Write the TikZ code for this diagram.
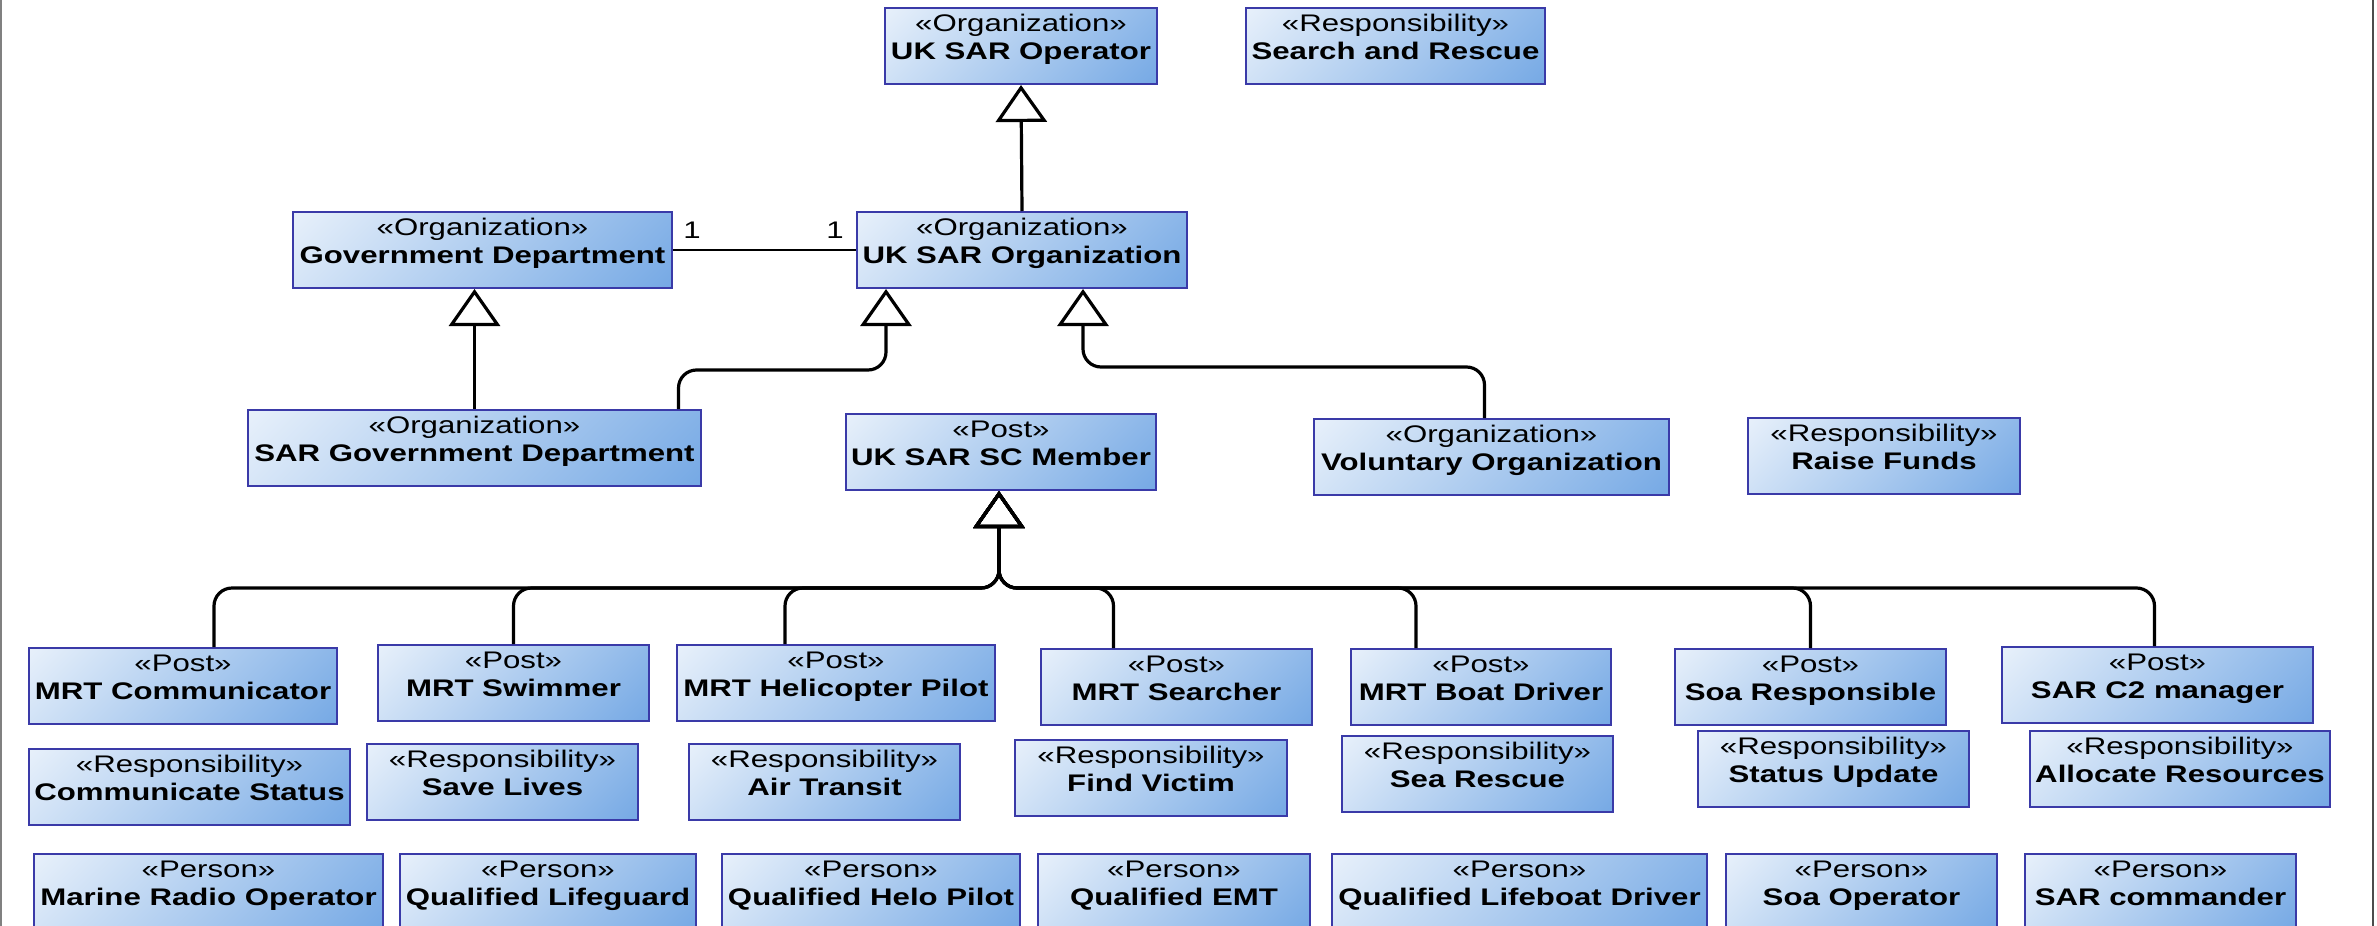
\documentclass[tikz,border=0pt]{standalone}
\usepackage{fontspec}
\setmainfont{Liberation Sans}
\usepackage{graphicx}
\usetikzlibrary{arrows.meta}

\definecolor{umlblue}{RGB}{94,154,224}
\definecolor{umlborder}{RGB}{58,58,168}
\pgfdeclareverticalshading{umlfill}{100bp}{color(0bp)=(umlblue); color(100bp)=(white)}

\newcommand{\umlfont}{\fontsize{24pt}{28pt}\selectfont}
\newcommand{\umltext}[2]{\scalebox{1.30}[1]{\begin{tabular}[t]{@{}c@{}}«#1»\\\textbf{#2}\end{tabular}}}
\newcommand{\widetext}[1]{\scalebox{1.30}[1]{#1}}

\begin{document}
\begin{tikzpicture}[x=1pt, y=-1pt,
  umlbox/.style={draw=umlborder, line width=2pt, shade, shading=umlfill, shading angle=45,
    anchor=north west, inner sep=0pt, minimum height=76pt,
    text height=23pt, text depth=53pt, font=\umlfont},
  gen/.style={draw=black, line width=3.2pt, rounded corners=18pt,
    -{Triangle[open, length=37pt, width=51pt]}},
  assoc/.style={draw=black, line width=2.6pt},
  mult/.style={inner sep=0pt, font=\umlfont},
  frame/.style={line width=2pt}]

\useasboundingbox (0,0) rectangle (2377,926);
\clip (0,0) rectangle (2377,926);

% page frame
\draw[frame, black!50] (1,0) -- (1,926);
\draw[frame, black!70] (2373,0) -- (2373,926);

% organizations and top-level responsibilities
\node[umlbox, minimum width=272pt] (ukop)  at (884,7)   {\umltext{Organization}{UK SAR Operator}};
\node[umlbox, minimum width=299pt] (sar)   at (1245,7)  {\umltext{Responsibility}{Search and Rescue}};
\node[umlbox, minimum width=379pt] (gd)    at (292,211) {\umltext{Organization}{Government Department}};
\node[umlbox, minimum width=330pt] (ukorg) at (856,211) {\umltext{Organization}{UK SAR Organization}};
\node[umlbox, minimum width=453pt] (sgd)   at (247,409) {\umltext{Organization}{SAR Government Department}};
\node[umlbox, minimum width=310pt] (ssc)   at (845,413) {\umltext{Post}{UK SAR SC Member}};
\node[umlbox, minimum width=355pt] (vol)   at (1313,418) {\umltext{Organization}{Voluntary Organization}};
\node[umlbox, minimum width=272pt] (funds) at (1747,417) {\umltext{Responsibility}{Raise Funds}};

% posts
\node[umlbox, minimum width=308pt] (mrtcom) at (28,647)   {\umltext{Post}{MRT Communicator}};
\node[umlbox, minimum width=271pt] (swim)   at (377,644)  {\umltext{Post}{MRT Swimmer}};
\node[umlbox, minimum width=318pt] (heli)   at (676,644)  {\umltext{Post}{MRT Helicopter Pilot}};
\node[umlbox, minimum width=271pt] (srch)   at (1040,648) {\umltext{Post}{MRT Searcher}};
\node[umlbox, minimum width=260pt] (boat)   at (1350,648) {\umltext{Post}{MRT Boat Driver}};
\node[umlbox, minimum width=271pt] (soa)    at (1674,648) {\umltext{Post}{Soa Responsible}};
\node[umlbox, minimum width=311pt] (ctwo)   at (2001,646) {\umltext{Post}{SAR C2 manager}};

% responsibilities of the posts
\node[umlbox, minimum width=321pt] (comm)  at (28,748)   {\umltext{Responsibility}{Communicate Status}};
\node[umlbox, minimum width=271pt] (save)  at (366,743)  {\umltext{Responsibility}{Save Lives}};
\node[umlbox, minimum width=271pt] (air)   at (688,743)  {\umltext{Responsibility}{Air Transit}};
\node[umlbox, minimum width=272pt] (find)  at (1014,739) {\umltext{Responsibility}{Find Victim}};
\node[umlbox, minimum width=271pt] (sea)   at (1341,735) {\umltext{Responsibility}{Sea Rescue}};
\node[umlbox, minimum width=271pt] (stat)  at (1697,730) {\umltext{Responsibility}{Status Update}};
\node[umlbox, minimum width=300pt] (alloc) at (2029,730) {\umltext{Responsibility}{Allocate Resources}};

% persons
\node[umlbox, minimum width=349pt] (marine)   at (33,853)   {\umltext{Person}{Marine Radio Operator}};
\node[umlbox, minimum width=296pt] (guard)    at (399,853)  {\umltext{Person}{Qualified Lifeguard}};
\node[umlbox, minimum width=298pt] (helo)     at (721,853)  {\umltext{Person}{Qualified Helo Pilot}};
\node[umlbox, minimum width=272pt] (emt)      at (1037,853) {\umltext{Person}{Qualified EMT}};
\node[umlbox, minimum width=375pt] (lifeboat) at (1331,853) {\umltext{Person}{Qualified Lifeboat Driver}};
\node[umlbox, minimum width=271pt] (soaop)    at (1725,853) {\umltext{Person}{Soa Operator}};
\node[umlbox, minimum width=271pt] (cmdr)     at (2024,853) {\umltext{Person}{SAR commander}};

% association with multiplicities
\draw[assoc] (gd.east) -- (ukorg.west)
  node[mult, pos=0, anchor=south west, xshift=9pt, yshift=10pt] (mgd) {\widetext{1}}
  node[mult, pos=1, anchor=south east, xshift=-11pt, yshift=10pt] (morg) {\widetext{1}};

% generalizations among organizations
\draw[gen] (ukorg.north) -- (ukop.south);
\draw[gen] (sgd.north) -- (sgd.north |- gd.south);
\draw[gen] ([xshift=204pt]sgd.north) -- ++(0,-39) -| ([xshift=-136pt]ukorg.south);
\draw[gen] ([xshift=-7pt]vol.north) -- ++(0,-51) -| ([xshift=61pt]ukorg.south);

% generalizations of the posts
\coordinate (bus) at ([xshift=-2pt, yshift=-97pt]ssc.south);
\draw[gen] ([xshift=31pt]mrtcom.north) |- (bus) -- ([xshift=-2pt]ssc.south);
\draw[gen] (swim.north) |- (bus) -- ([xshift=-2pt]ssc.south);
\draw[gen] ([xshift=-51pt]heli.north) |- (bus) -- ([xshift=-2pt]ssc.south);
\draw[gen] ([xshift=-63pt]srch.north) |- (bus) -- ([xshift=-2pt]ssc.south);
\draw[gen] ([xshift=-65pt]boat.north) |- (bus) -- ([xshift=-2pt]ssc.south);
\draw[gen] (soa.north) |- (bus) -- ([xshift=-2pt]ssc.south);
\draw[gen] ([xshift=-3pt]ctwo.north) |- (bus) -- ([xshift=-2pt]ssc.south);

\end{tikzpicture}
\end{document}
